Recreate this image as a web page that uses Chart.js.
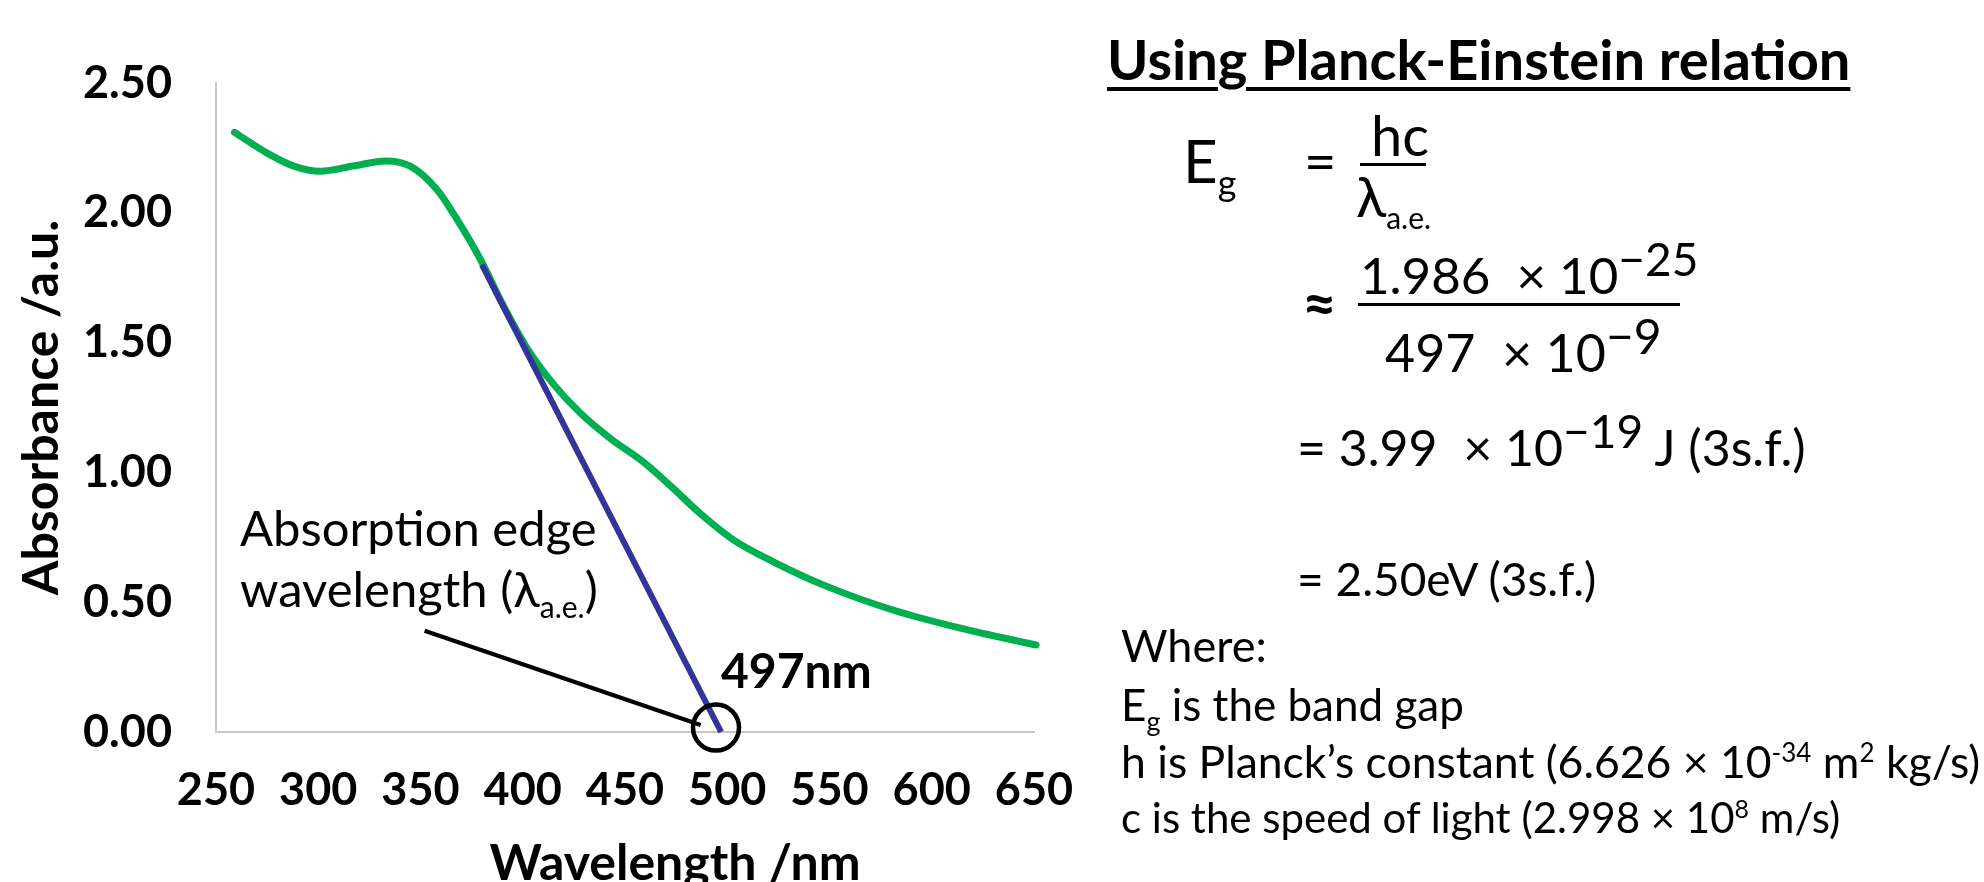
<!DOCTYPE html>
<html>
<head>
<meta charset="utf-8">
<script src="https://cdn.jsdelivr.net/npm/chart.js@4/dist/chart.umd.min.js"></script>
<style>
  html, body { margin: 0; padding: 0; background: #fff; overflow: hidden; }
  #wrap { position: relative; width: 1984px; height: 882px; overflow: hidden; font-family: Lato, sans-serif; color: #000; }
  #chart { position: absolute; left: 0; top: 0; }
  .t { position: absolute; white-space: nowrap; line-height: 1; }
  .bar { position: absolute; background: #000; }
  sub, sup { line-height: 0; }
</style>
</head>
<body>
<div id="wrap">
  <canvas id="chart" width="1984" height="940"></canvas>

  <div class="t" style="left:240px; top:503px; font-size:49px;">Absorption edge</div>
  <div class="t" style="left:240px; top:564px; font-size:49px;">wavelength (λ<sub style="font-size:30px;">a.e.</sub>)</div>
  <div class="t" style="left:721px; top:646px; font-size:48px; font-weight:bold;">497nm</div>

  <div class="t" style="left:1107px; top:31px; font-size:56px; font-weight:bold; text-decoration:underline; text-decoration-thickness:4px; text-underline-offset:7px;">Using Planck-Einstein relation</div>

  <div class="t" style="left:1183px; top:130px; font-size:60px;">E<sub style="font-size:36px;">g</sub></div>
  <div class="t" style="left:1304px; top:132px; font-size:56px;">=</div>
  <div class="t" style="left:1371px; top:107px; font-size:56px;">hc</div>
  <div class="bar" style="left:1360px; top:163px; width:66px; height:3px;"></div>
  <div class="t" style="left:1356px; top:168px; font-size:56px;">λ<sub style="font-size:30px;">a.e.</sub></div>

  <div class="t" style="left:1302px; top:272px; font-size:60px; font-weight:bold;">≈</div>
  <div class="t" style="left:1360px; top:249px; font-size:51px;">1.986 &nbsp;× 10<sup style="font-size:46px;">−25</sup></div>
  <div class="bar" style="left:1358px; top:303px; width:322px; height:3px;"></div>
  <div class="t" style="left:1385px; top:326px; font-size:52px;">497 &nbsp;× 10<sup style="font-size:48px;">−9</sup></div>

  <div class="t" style="left:1297px; top:422px; font-size:50px;">= 3.99 &nbsp;× 10<sup style="font-size:46px;">−19</sup> J (3s.f.)</div>
  <div class="t" style="left:1297px; top:556px; font-size:46px;">= 2.50eV (3s.f.)</div>

  <div class="t" style="left:1121px; top:623px; font-size:45px;">Where:</div>
  <div class="t" style="left:1121px; top:682px; font-size:44px;">E<sub style="font-size:27px;">g</sub> is the band gap</div>
  <div class="t" style="left:1121px; top:739px; font-size:44.5px;">h is Planck’s constant (6.626 × 10<sup style="font-size:26px;">-34</sup> m<sup style="font-size:26px;">2</sup> kg/s)</div>
  <div class="t" style="left:1121px; top:796px; font-size:42px;">c is the speed of light (2.998 × 10<sup style="font-size:25px;">8</sup> m/s)</div>
</div>

<script>
// absorbance spectrum
const wavelengths = [259, 275, 288, 301, 317, 333, 345, 358, 369, 380, 390, 402, 415, 428, 443, 459, 472, 487, 503, 524, 549, 581, 614, 651];
const absorbance = [2.31, 2.23, 2.18, 2.16, 2.18, 2.20, 2.18, 2.09, 1.96, 1.81, 1.65, 1.48, 1.34, 1.23, 1.13, 1.04, 0.95, 0.84, 0.74, 0.65, 0.56, 0.47, 0.40, 0.335];

// tangent used to find the absorption edge
const tangentX = [380, 497];
const tangentY = [1.80, 0];

// pointer from the label to the edge, and the circled edge
const pointerX = [352, 487];
const pointerY = [0.39, 0.027];
const edgeX = [494.5];
const edgeY = [0.017];

const xTicks = [250, 300, 350, 400, 450, 500, 550, 600, 650];
const yTicks = [0, 0.5, 1.0, 1.5, 2.0, 2.5];

const pts = (xs, ys) => xs.map((x, i) => ({ x: x, y: ys[i] }));
const tickFont = { family: 'Lato', size: 45, weight: 'bold' };
const titleFont = { family: 'Lato', size: 50, weight: 'bold' };

new Chart(document.getElementById('chart'), {
  type: 'line',
  data: {
    datasets: [
      { label: 'Edge', data: pts(edgeX, edgeY), showLine: false, pointRadius: 23, pointBorderWidth: 4.5, pointBorderColor: '#000', pointBackgroundColor: 'rgba(0,0,0,0)', clip: false },
      { label: 'Pointer', data: pts(pointerX, pointerY), borderColor: '#000', borderWidth: 4, pointRadius: 0, clip: false },
      { label: 'Tangent', data: pts(tangentX, tangentY), borderColor: '#333399', borderWidth: 6, pointRadius: 0, clip: false },
      { label: 'Absorbance', data: pts(wavelengths, absorbance), borderColor: '#00B050', borderWidth: 7, pointRadius: 0, cubicInterpolationMode: 'monotone', borderCapStyle: 'round', clip: false }
    ]
  },
  options: {
    responsive: false,
    animation: false,
    events: [],
    layout: { padding: { left: 0, top: 83, right: 950, bottom: 0 } },
    plugins: { legend: { display: false }, tooltip: { enabled: false } },
    scales: {
      x: {
        type: 'linear',
        min: xTicks[0],
        max: xTicks[xTicks.length - 1],
        afterBuildTicks: s => { s.ticks = xTicks.map(v => ({ value: v })); },
        ticks: { font: tickFont, color: '#000', padding: 31, maxRotation: 0, autoSkip: false },
        grid: { display: false, drawTicks: false },
        border: { display: true, color: '#C8C8C8', width: 2 },
        title: { display: true, text: '\u2003\u2003\u2002Wavelength /nm', font: titleFont, color: '#000', padding: { top: 0, bottom: 46 } },
        afterFit: s => { s.height = 208; }
      },
      y: {
        min: yTicks[0],
        max: yTicks[yTicks.length - 1],
        afterBuildTicks: s => { s.ticks = yTicks.map(v => ({ value: v })); },
        ticks: { font: tickFont, color: '#000', padding: 44, callback: v => v.toFixed(2) },
        grid: { display: false, drawTicks: false },
        border: { display: true, color: '#C8C8C8', width: 2 },
        title: { display: true, text: 'Absorbance /a.u.', font: titleFont, color: '#000', padding: { top: 12, bottom: 0 } },
        afterFit: s => { s.width = 216; }
      }
    }
  }
});
</script>
</body>
</html>
